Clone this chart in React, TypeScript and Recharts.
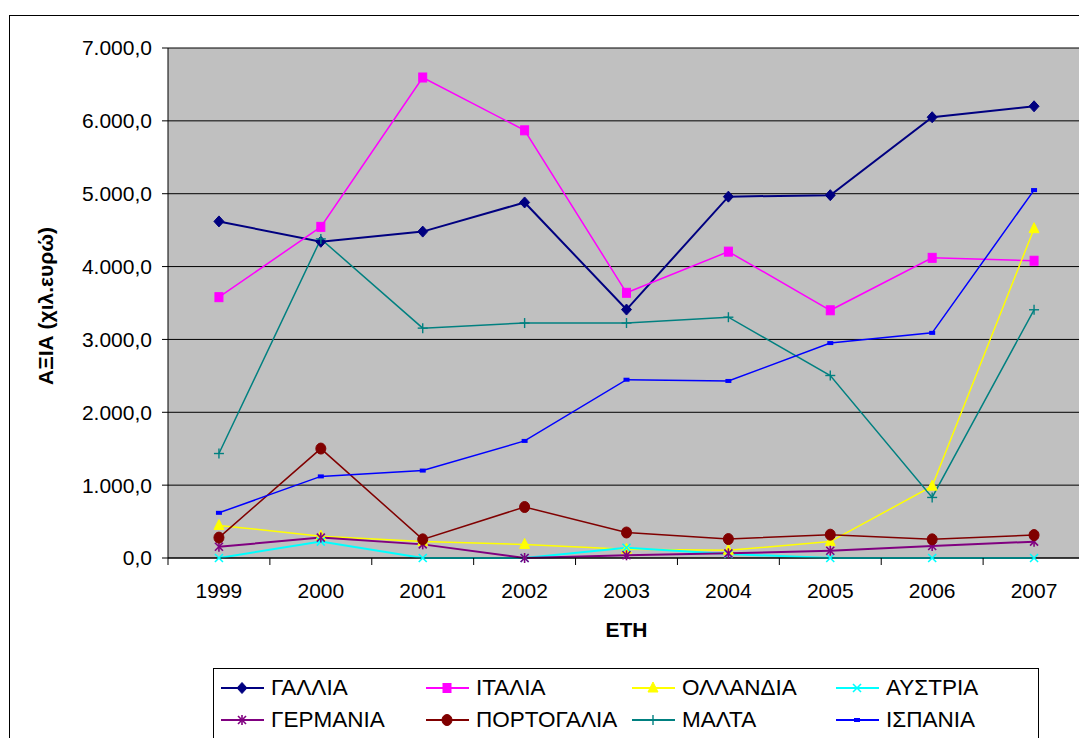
import React from 'react';
import { LineChart, Line, XAxis, YAxis, CartesianGrid } from 'recharts';

const years = ['1999', '2000', '2001', '2002', '2003', '2004', '2005', '2006', '2007'];
const gallia = [4620, 4340, 4480, 4880, 3410, 4960, 4980, 6050, 6200];
const italia = [3580, 4545, 6595, 5870, 3640, 4205, 3400, 4120, 4080];
const ollandia = [447, 300, 225, 187, 120, 105, 225, 986, 4520];
const austria = [0, 225, 0, 0, 140, 55, 0, 0, 0];
const germania = [155, 280, 187, 0, 37, 64, 100, 164, 224];
const portogalia = [280, 1502, 256, 700, 350, 260, 320, 256, 315];
const malta = [1434, 4380, 3155, 3225, 3225, 3305, 2505, 831, 3407];
const ispania = [620, 1120, 1200, 1607, 2447, 2430, 2950, 3090, 5050];
const yTicks = [0, 1000, 2000, 3000, 4000, 5000, 6000, 7000];

const data = years.map((y, i) => ({
  year: y,
  gallia: gallia[i],
  italia: italia[i],
  ollandia: ollandia[i],
  austria: austria[i],
  germania: germania[i],
  portogalia: portogalia[i],
  malta: malta[i],
  ispania: ispania[i],
}));

const FONT = '"Liberation Sans", Arial, sans-serif';
const W = 1079;
const H = 730;
const PLOT_LEFT = 160;
const PLOT_RIGHT = 1077;
const PLOT_TOP = 40;
const PLOT_BOTTOM = 550;
const HALF_BAND = (PLOT_RIGHT - PLOT_LEFT) / years.length / 2;

const fmt = (v: number) => {
  const [ip, dp] = v.toFixed(1).split('.');
  return ip.replace(/\B(?=(\d{3})+(?!\d))/g, '.') + ',' + dp;
};

type Shape = 'diamond' | 'square' | 'triangle' | 'x' | 'star' | 'circle' | 'plus' | 'dash';

const Marker = ({ cx, cy, shape, color }: { cx: number; cy: number; shape: Shape; color: string }) => {
  switch (shape) {
    case 'diamond':
      return <polygon points={`${cx},${cy - 5.5} ${cx + 5},${cy} ${cx},${cy + 5.5} ${cx - 5},${cy}`} fill={color} stroke={color} />;
    case 'square':
      return <rect x={cx - 4} y={cy - 4.5} width={8} height={9} fill={color} stroke={color} />;
    case 'triangle':
      return <polygon points={`${cx},${cy - 6} ${cx + 5},${cy + 4} ${cx - 5},${cy + 4}`} fill={color} stroke={color} />;
    case 'x':
      return (
        <g stroke={color} strokeWidth={1.6}>
          <line x1={cx - 4} y1={cy - 4} x2={cx + 4} y2={cy + 4} />
          <line x1={cx - 4} y1={cy + 4} x2={cx + 4} y2={cy - 4} />
        </g>
      );
    case 'star':
      return (
        <g stroke={color} strokeWidth={1.6}>
          <line x1={cx - 4} y1={cy - 4} x2={cx + 4} y2={cy + 4} />
          <line x1={cx - 4} y1={cy + 4} x2={cx + 4} y2={cy - 4} />
          <line x1={cx} y1={cy - 5} x2={cx} y2={cy + 5} />
        </g>
      );
    case 'circle':
      return <ellipse cx={cx} cy={cy} rx={5} ry={5.5} fill={color} stroke={color} />;
    case 'plus':
      return (
        <g stroke={color} strokeWidth={1.4}>
          <line x1={cx - 5} y1={cy} x2={cx + 5} y2={cy} />
          <line x1={cx} y1={cy - 5} x2={cx} y2={cy + 5} />
        </g>
      );
    case 'dash':
    default:
      return <rect x={cx - 3} y={cy - 2} width={6} height={4} fill={color} />;
  }
};

const series: { key: string; name: string; color: string; shape: Shape; width: number }[] = [
  { key: 'gallia', name: 'ΓΑΛΛΙΑ', color: '#000080', shape: 'diamond', width: 2 },
  { key: 'italia', name: 'ΙΤΑΛΙΑ', color: '#FF00FF', shape: 'square', width: 1.5 },
  { key: 'ollandia', name: 'ΟΛΛΑΝΔΙΑ', color: '#FFFF00', shape: 'triangle', width: 1.5 },
  { key: 'austria', name: 'ΑΥΣΤΡΙΑ', color: '#00FFFF', shape: 'x', width: 2 },
  { key: 'germania', name: 'ΓΕΡΜΑΝΙΑ', color: '#800080', shape: 'star', width: 2 },
  { key: 'portogalia', name: 'ΠΟΡΤΟΓΑΛΙΑ', color: '#800000', shape: 'circle', width: 1.5 },
  { key: 'malta', name: 'ΜΑΛΤΑ', color: '#008080', shape: 'plus', width: 1.5 },
  { key: 'ispania', name: 'ΙΣΠΑΝΙΑ', color: '#0000FF', shape: 'dash', width: 1.5 },
];

const XTick = (props: any) => {
  const { x, payload, index } = props;
  const isLast = index === years.length - 1;
  return (
    <g>
      <line x1={x - HALF_BAND} y1={PLOT_BOTTOM} x2={x - HALF_BAND} y2={PLOT_BOTTOM + 7} stroke="#000" />
      {isLast && <line x1={x + HALF_BAND} y1={PLOT_BOTTOM} x2={x + HALF_BAND} y2={PLOT_BOTTOM + 7} stroke="#000" />}
      <text x={x} y={PLOT_BOTTOM + 40} textAnchor="middle" fontFamily={FONT} fontSize={21} fill="#000">
        {payload.value}
      </text>
    </g>
  );
};

const LegendItem = ({ s }: { s: (typeof series)[number] }) => (
  <div style={{ display: 'flex', alignItems: 'center', height: 32 }}>
    <svg width={48} height={16} style={{ flex: 'none' }}>
      <line x1={0} y1={8} x2={43} y2={8} stroke={s.color} strokeWidth={2} />
      <Marker cx={21} cy={8} shape={s.shape} color={s.color} />
    </svg>
    <span style={{ fontFamily: FONT, fontSize: 22.5, lineHeight: '32px', color: '#000', marginLeft: 2, whiteSpace: 'nowrap' }}>{s.name}</span>
  </div>
);

export default function App() {
  return (
    <div style={{ position: 'relative', width: W, height: H, overflow: 'hidden', background: '#fff' }}>
      <div
        style={{
          position: 'absolute',
          left: 1,
          top: 7,
          width: 2000,
          height: 2000,
          border: '1px solid #000',
          boxSizing: 'border-box',
        }}
      />
      <div style={{ position: 'absolute', left: 0, top: 0 }}>
        <LineChart width={W} height={H} data={data} margin={{ top: PLOT_TOP, right: W - PLOT_RIGHT, bottom: H - PLOT_BOTTOM - 60, left: 0 }}>
          <CartesianGrid fill="#C0C0C0" stroke="#000" vertical={false} strokeOpacity={1} />
          <XAxis
            dataKey="year"
            padding={{ left: HALF_BAND, right: HALF_BAND }}
            height={60}
            tickLine={false}
            axisLine={{ stroke: '#000' }}
            tick={<XTick />}
            interval={0}
            label={() => (
              <text x={(PLOT_LEFT + PLOT_RIGHT) / 2} y={629} textAnchor="middle" fontFamily={FONT} fontSize={21} fontWeight="bold" fill="#000">
                ΕΤΗ
              </text>
            )}
          />
          <XAxis xAxisId="top" orientation="top" dataKey="year" height={0} tick={false} tickLine={false} axisLine={{ stroke: '#808080', strokeWidth: 2 }} />
          <YAxis
            width={PLOT_LEFT}
            domain={[0, 7000]}
            ticks={yTicks}
            interval={0}
            tickFormatter={fmt}
            tickSize={6}
            tickMargin={10}
            tickLine={{ stroke: '#000' }}
            axisLine={{ stroke: '#000' }}
            tick={{ fontFamily: FONT, fontSize: 21, fill: '#000' }}
            label={() => (
              <text
                x={37}
                y={298}
                transform="rotate(-90, 37, 298)"
                textAnchor="middle"
                dominantBaseline="central"
                fontFamily={FONT}
                fontSize={21}
                fontWeight="bold"
                fill="#000"
              >
                ΑΞΙΑ (χιλ.ευρώ)
              </text>
            )}
          />
          <YAxis yAxisId="r" orientation="right" width={0} domain={[0, 7000]} tick={false} tickLine={false} axisLine={{ stroke: '#808080', strokeWidth: 2 }} />
          {series.map((s) => (
            <Line
              key={s.key}
              dataKey={s.key}
              name={s.name}
              stroke={s.color}
              strokeWidth={s.width}
              isAnimationActive={false}
              dot={(p: any) => <Marker key={`${s.key}-${p.index}`} cx={p.cx} cy={p.cy} shape={s.shape} color={s.color} />}
              activeDot={false}
            />
          ))}
        </LineChart>
      </div>
      <div
        style={{
          position: 'absolute',
          left: 205,
          top: 660,
          width: 826,
          height: 200,
          border: '1px solid #000',
          boxSizing: 'border-box',
          background: '#fff',
        }}
      >
        <div style={{ position: 'absolute', left: 7, top: 3, display: 'grid', gridTemplateColumns: '205px 206px 204px 205px' }}>
          {series.map((s) => (
            <LegendItem key={s.key} s={s} />
          ))}
        </div>
      </div>
    </div>
  );
}
